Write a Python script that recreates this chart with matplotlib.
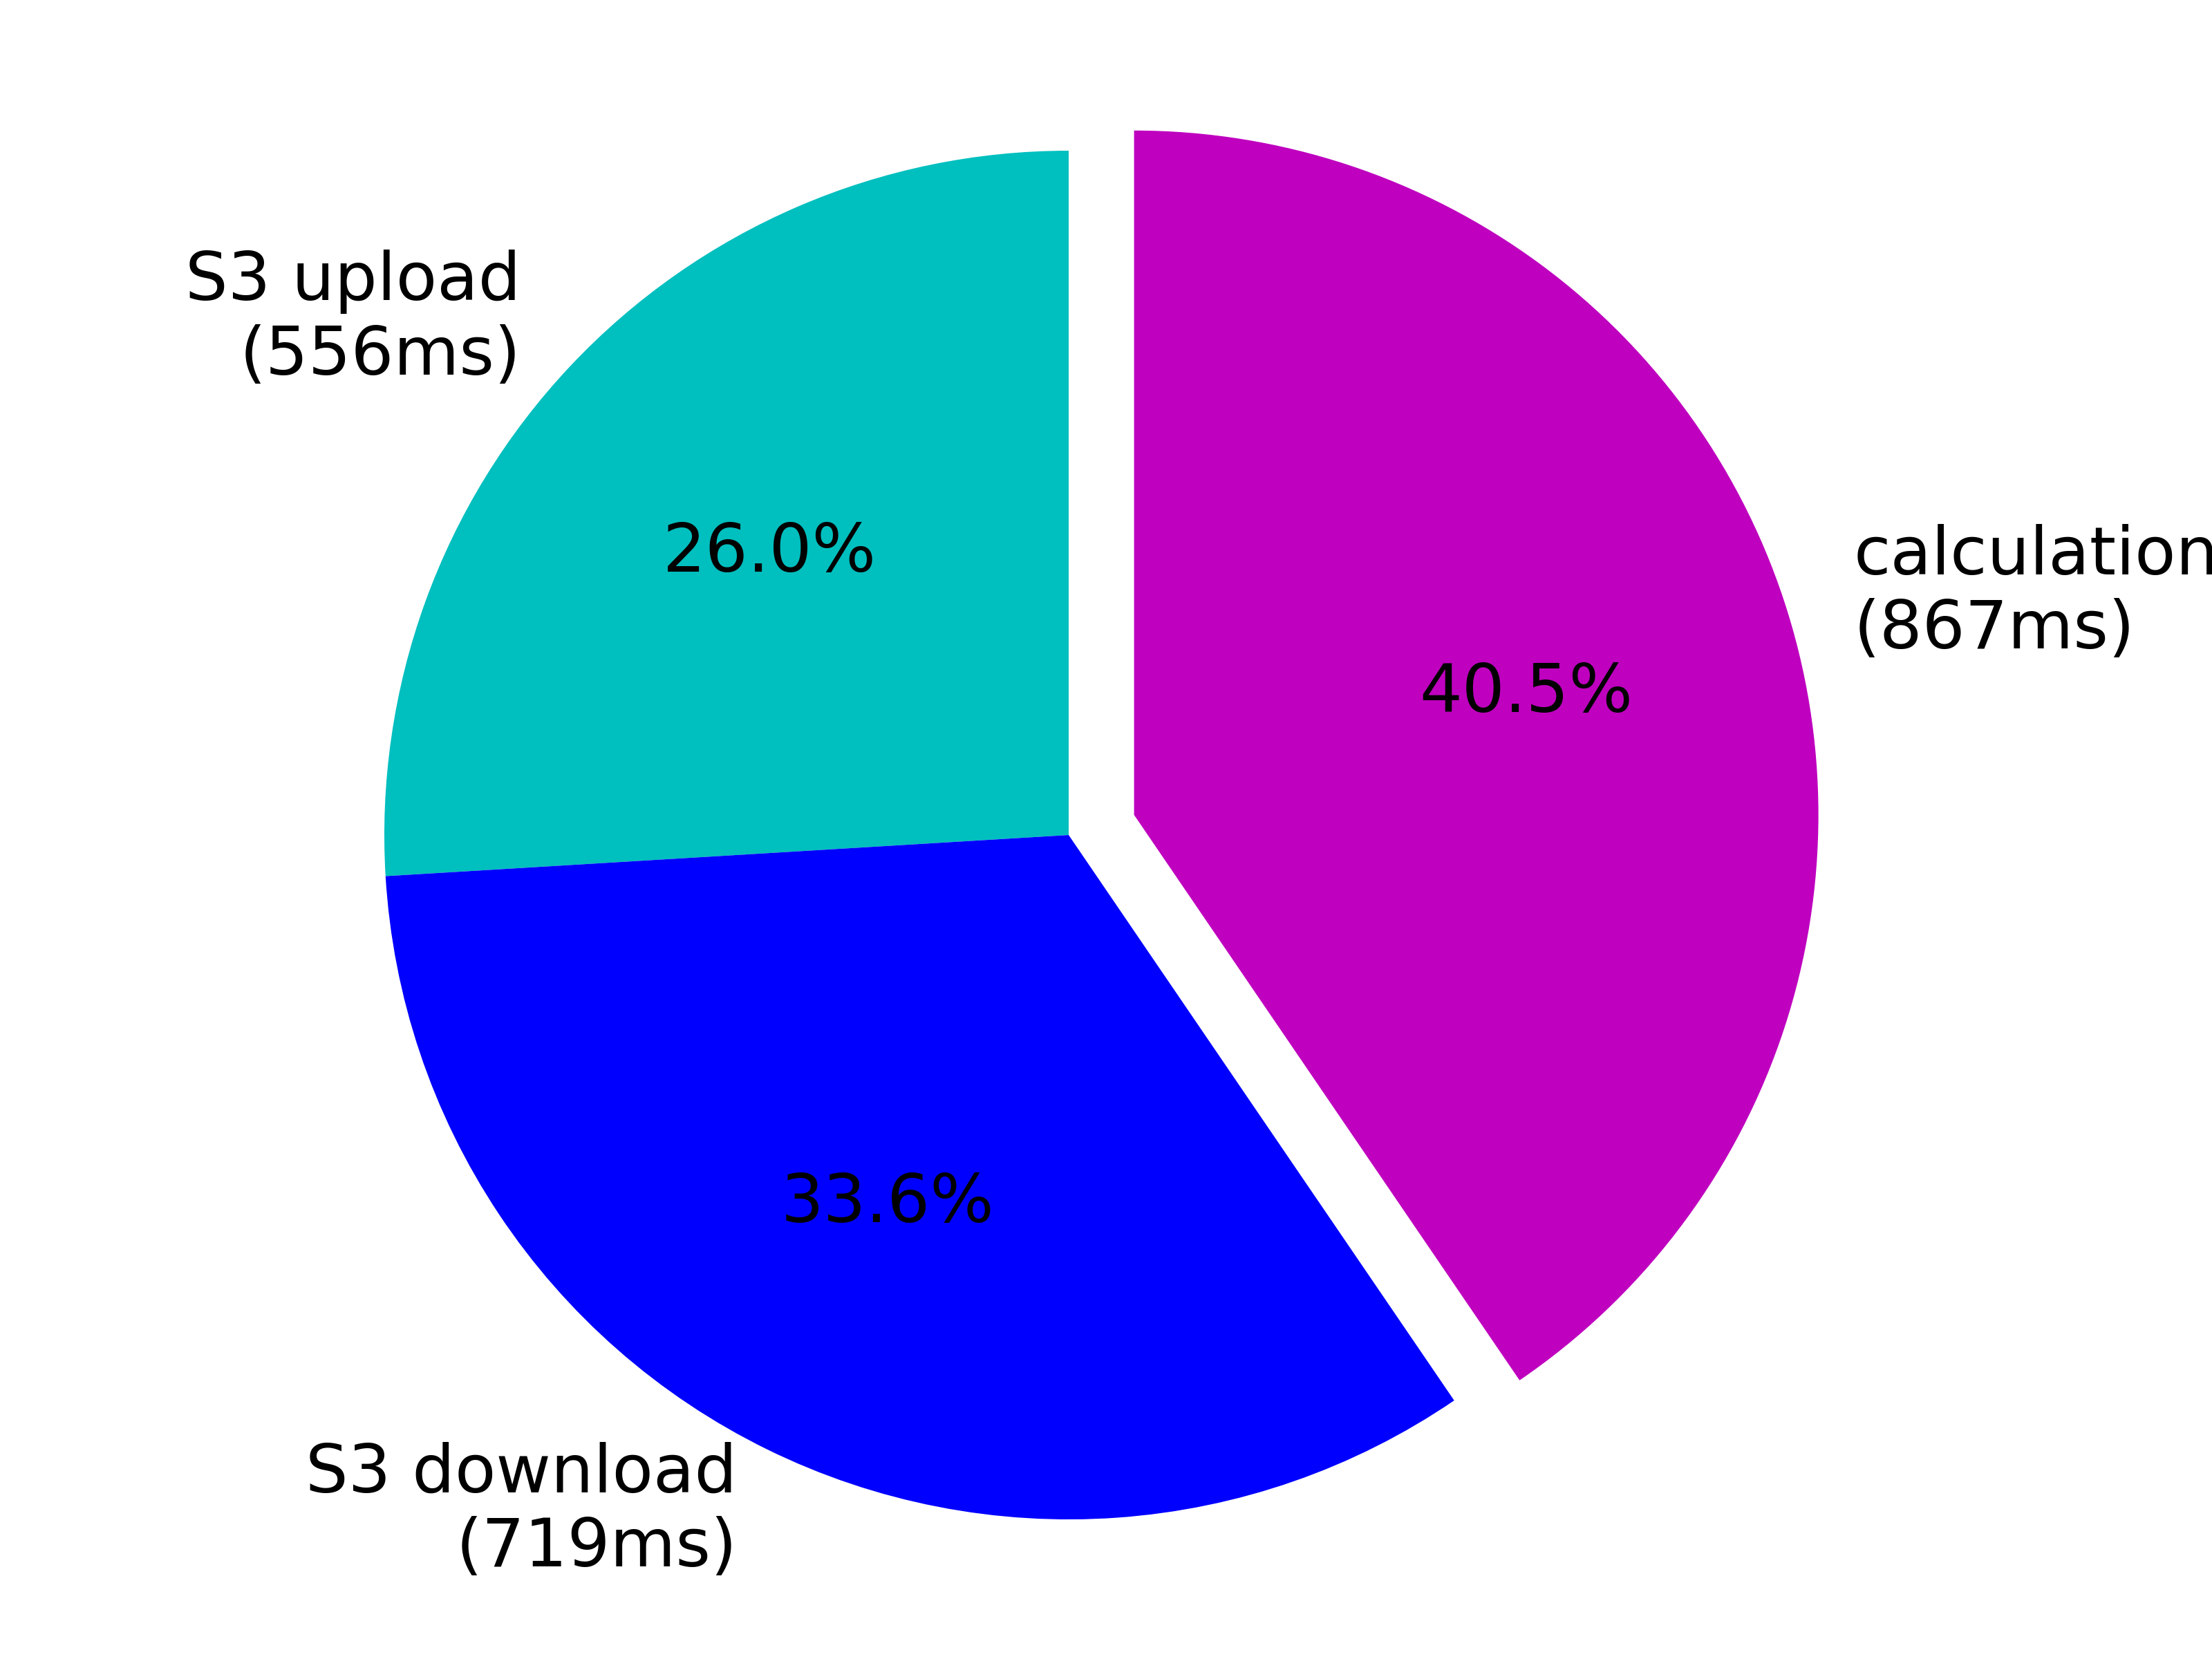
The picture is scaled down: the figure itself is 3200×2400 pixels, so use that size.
import matplotlib
matplotlib.use("Agg")
import matplotlib.pyplot as plt

labels = ["S3 upload\n(556ms)", "S3 download\n(719ms)", "calculation\n(867ms)"]
times_ms = [556, 719, 867]
colors = ["c", "b", "m"]
explode = [0, 0, 0.1]

if __name__ == "__main__":
    fig = plt.figure(figsize=(6.4, 4.8), dpi=500)
    ax = fig.add_axes([0, 0, 1, 1])

    ax.pie(times_ms, labels=labels, colors=colors, explode=explode,
           autopct="%1.1f%%", startangle=90, textprops={"fontsize": 14})

    ## pie centre sits a bit left of the figure centre, labels run off the right edge
    ax.set_xlim(-1.5616, 1.6707)
    ax.set_ylim(-1.2040, 1.2202)
    ax.set_aspect("equal")

    fig.savefig("out.png", dpi=500)
